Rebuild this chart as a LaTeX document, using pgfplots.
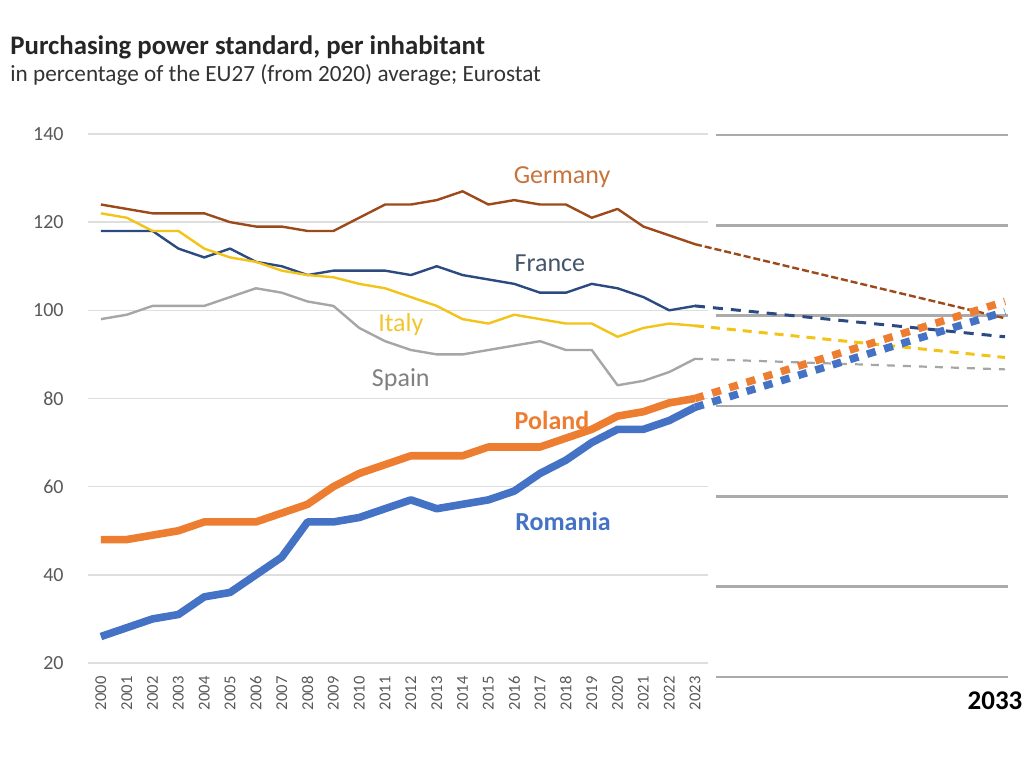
\documentclass[border=0pt]{standalone}
\usepackage{fontspec}
\setmainfont{Carlito}
\usepackage{pgfplots}
\pgfplotsset{compat=1.18}
\definecolor{deline}{HTML}{9C4A1A}
\definecolor{detext}{HTML}{C7743C}
\definecolor{frline}{HTML}{2B4A80}
\definecolor{frtext}{HTML}{44546A}
\definecolor{itline}{HTML}{F2C318}
\definecolor{ittext}{HTML}{F2C530}
\definecolor{esline}{HTML}{A6A6A6}
\definecolor{estext}{HTML}{808080}
\definecolor{plline}{HTML}{ED7D31}
\definecolor{roline}{HTML}{4472C4}
\definecolor{lgrid}{HTML}{DEDEDE}
\definecolor{rgrid}{HTML}{ABABAB}
\definecolor{ticktext}{HTML}{595959}
\begin{document}
\begin{tikzpicture}
\path[use as bounding box] (0,0) rectangle (512pt,379.5pt);
% title
\node[anchor=base west, inner sep=0pt, font=\fontsize{13.4pt}{15pt}\selectfont\bfseries, text=black!85] at (5pt,352pt) {Purchasing power standard, per inhabitant};
\node[anchor=base west, inner sep=0pt, font=\fontsize{11.6pt}{13pt}\selectfont, text=black!80] at (5pt,338.5pt) {in percentage of the EU27 (from 2020) average; Eurostat};
% left axis
\begin{axis}[
  at={(44pt,48pt)}, anchor=south west,
  scale only axis, width=310pt, height=264.5pt,
  xmin=1999.5, xmax=2023.5, ymin=20, ymax=140,
  axis line style={draw=none},
  xtick={2000,...,2023}, ytick={20,40,...,140},
  major tick length=0pt,
  ymajorgrids, grid style={draw=lgrid, line width=0.75pt},
  /pgf/number format/assume math mode=true,
  /pgf/number format/1000 sep={},
  xticklabel shift=6.5pt, yticklabel shift=12pt,
  xticklabel style={rotate=90, anchor=east, inner sep=0pt, font=\fontsize{8.3pt}{9pt}\selectfont, text=ticktext},
  yticklabel style={anchor=east, inner sep=0pt, font=\fontsize{10pt}{11pt}\selectfont, text=ticktext},
  clip=false,
]
\addplot[deline, line width=1.2pt, line join=round] coordinates {
(2000,124)(2001,123)(2002,122)(2003,122)(2004,122)(2005,120)(2006,119)(2007,119)(2008,118)(2009,118)(2010,121)(2011,124)(2012,124)(2013,125)(2014,127)(2015,124)(2016,125)(2017,124)(2018,124)(2019,121)(2020,123)(2021,119)(2022,117)(2023,115)};
\addplot[frline, line width=1.2pt, line join=round] coordinates {
(2000,118)(2001,118)(2002,118)(2003,114)(2004,112)(2005,114)(2006,111)(2007,110)(2008,108)(2009,109)(2010,109)(2011,109)(2012,108)(2013,110)(2014,108)(2015,107)(2016,106)(2017,104)(2018,104)(2019,106)(2020,105)(2021,103)(2022,100)(2023,101)};
\addplot[itline, line width=1.2pt, line join=round] coordinates {
(2000,122)(2001,121)(2002,118)(2003,118)(2004,114)(2005,112)(2006,111)(2007,109)(2008,108)(2009,107.5)(2010,106)(2011,105)(2012,103)(2013,101)(2014,98)(2015,97)(2016,99)(2017,98)(2018,97)(2019,97)(2020,94)(2021,96)(2022,97)(2023,96.5)};
\addplot[esline, line width=1.2pt, line join=round] coordinates {
(2000,98)(2001,99)(2002,101)(2003,101)(2004,101)(2005,103)(2006,105)(2007,104)(2008,102)(2009,101)(2010,96)(2011,93)(2012,91)(2013,90)(2014,90)(2015,91)(2016,92)(2017,93)(2018,91)(2019,91)(2020,83)(2021,84)(2022,86)(2023,89)};
\addplot[plline, line width=3.8pt, line join=round] coordinates {
(2000,48)(2001,48)(2002,49)(2003,50)(2004,52)(2005,52)(2006,52)(2007,54)(2008,56)(2009,60)(2010,63)(2011,65)(2012,67)(2013,67)(2014,67)(2015,69)(2016,69)(2017,69)(2018,71)(2019,73)(2020,76)(2021,77)(2022,79)(2023,80)};
\addplot[roline, line width=3.8pt, line join=round] coordinates {
(2000,26)(2001,28)(2002,30)(2003,31)(2004,35)(2005,36)(2006,40)(2007,44)(2008,52)(2009,52)(2010,53)(2011,55)(2012,57)(2013,55)(2014,56)(2015,57)(2016,59)(2017,63)(2018,66)(2019,70)(2020,73)(2021,73)(2022,75)(2023,78)};
\node[font=\fontsize{13pt}{15pt}\selectfont, text=detext] at (axis cs:2017.85,130.3) {Germany};
\node[font=\fontsize{13pt}{15pt}\selectfont, text=frtext] at (axis cs:2017.38,110.7) {France};
\node[font=\fontsize{13pt}{15pt}\selectfont, text=ittext] at (axis cs:2011.61,96.7) {Italy};
\node[font=\fontsize{13pt}{15pt}\selectfont, text=estext] at (axis cs:2011.61,84.2) {Spain};
\node[font=\fontsize{13pt}{15pt}\selectfont\bfseries, text=plline] at (axis cs:2017.46,75.1) {Poland};
\node[font=\fontsize{13pt}{15pt}\selectfont\bfseries, text=roline] at (axis cs:2017.89,52.0) {Romania};
\end{axis}
% right grid axis
\begin{axis}[
  at={(358pt,41pt)}, anchor=south west,
  scale only axis, width=146pt, height=271pt,
  xmin=2023.677, xmax=2033.097, ymin=20, ymax=140,
  axis line style={draw=none},
  xtick={2033}, ytick={20,40,...,140}, yticklabels={},
  major tick length=0pt,
  ymajorgrids, grid style={draw=rgrid, line width=1.2pt},
  /pgf/number format/assume math mode=true,
  /pgf/number format/1000 sep={},
  xticklabel shift=7pt,
  xticklabel style={anchor=north, inner sep=0pt, xshift=-5pt, font=\fontsize{13.5pt}{15pt}\selectfont\bfseries, text=black},
]
\end{axis}
% projections
\begin{axis}[
  at={(358pt,48pt)}, anchor=south west,
  scale only axis, width=146pt, height=264.5pt,
  xmin=2023.677, xmax=2033.097, ymin=20, ymax=140,
  hide axis, clip=false,
]
\addplot[deline, line width=1.2pt, dash pattern=on 3.5pt off 1.5pt] coordinates {(2023,115)(2033,98.2)};
\addplot[frline, line width=1.5pt, dash pattern=on 5pt off 4pt] coordinates {(2023,101)(2033,94)};
\addplot[itline, line width=1.5pt, dash pattern=on 4.5pt off 3.5pt] coordinates {(2023,96.5)(2033,89.3)};
\addplot[esline, line width=1.1pt, dash pattern=on 4pt off 4pt] coordinates {(2023,89)(2033,86.6)};
\addplot[plline, line width=3.8pt, dash pattern=on 4.5pt off 4.5pt] coordinates {(2023,80)(2033,102)};
\addplot[roline, line width=3.8pt, dash pattern=on 4.5pt off 4.5pt] coordinates {(2023,78)(2033,99.7)};
\end{axis}
\end{tikzpicture}
\end{document}
